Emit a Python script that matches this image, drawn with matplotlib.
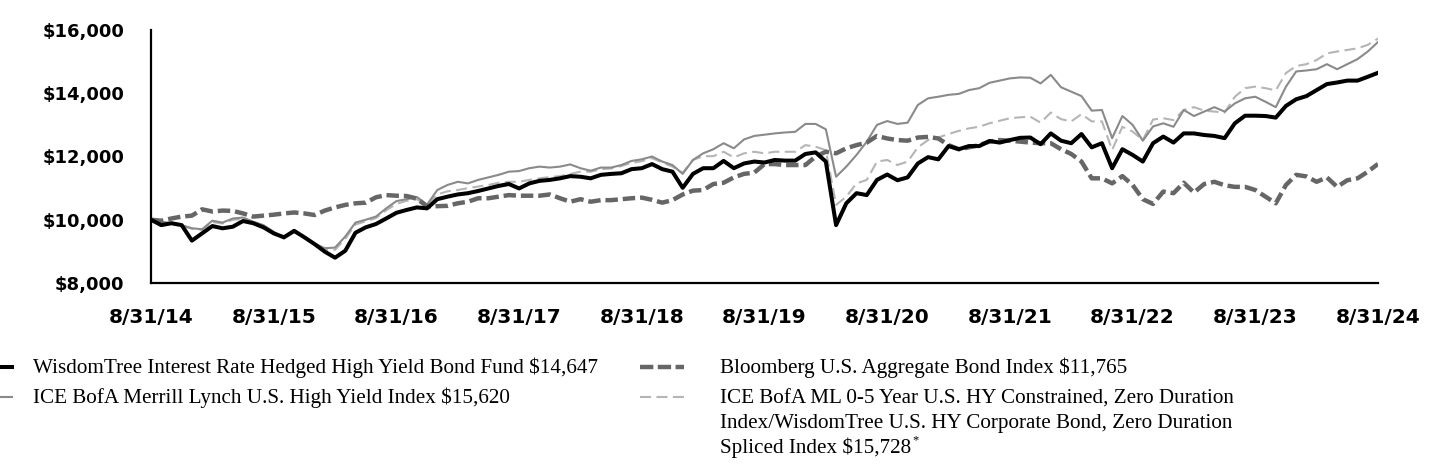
import numpy as np
import matplotlib.pyplot as plt
from matplotlib.lines import Line2D

# month index 0 = 8/31/14 ... 120 = 8/31/24
months = np.arange(121)
tick_months = [0, 12, 24, 36, 48, 60, 72, 84, 96, 108, 120]
tick_labels = ['8/31/14', '8/31/15', '8/31/16', '8/31/17', '8/31/18', '8/31/19',
               '8/31/20', '8/31/21', '8/31/22', '8/31/23', '8/31/24']
y_ticks = [8000, 10000, 12000, 14000, 16000]
y_labels = ['$8,000', '$10,000', '$12,000', '$14,000', '$16,000']

fund = [10000, 9830, 9890, 9830, 9340, 9570, 9800, 9730, 9780, 9960, 9890, 9760,
        9570, 9445, 9650, 9445, 9230, 8990, 8800, 9020, 9590, 9760, 9865, 10040,
        10220, 10310, 10390, 10360, 10650, 10730, 10800, 10840, 10910, 10990, 11070, 11130,
        10990, 11150, 11230, 11260, 11310, 11380, 11360, 11310, 11420, 11450, 11470, 11600,
        11630, 11760, 11600, 11520, 11010, 11450, 11630, 11630, 11860, 11630, 11780, 11840,
        11810, 11890, 11870, 11870, 12080, 12130, 11840, 9830, 10520, 10840, 10780, 11260,
        11430, 11250, 11340, 11780, 11980, 11910, 12330, 12230, 12330, 12330, 12490, 12440,
        12520, 12590, 12600, 12390, 12730, 12500, 12420, 12710, 12290, 12420, 11630, 12230,
        12050, 11840, 12420, 12630, 12440, 12730, 12730, 12680, 12650, 12580, 13050, 13290,
        13290, 13280, 13230, 13600, 13810, 13910, 14100, 14290, 14340, 14400, 14400, 14520,
        14647]

hy = [10000, 9940, 9890, 9830, 9730, 9700, 9970, 9910, 10040, 10070, 9940, 9830,
      9620, 9410, 9620, 9445, 9250, 9100, 9120, 9470, 9910, 10000, 10100, 10360,
      10590, 10650, 10720, 10480, 10940, 11100, 11200, 11150, 11260, 11340, 11420, 11520,
      11540, 11630, 11680, 11650, 11680, 11750, 11630, 11550, 11650, 11650, 11730, 11860,
      11910, 12000, 11840, 11730, 11450, 11890, 12100, 12230, 12420, 12260, 12540, 12650,
      12690, 12730, 12760, 12780, 13030, 13030, 12860, 11360, 11680, 12050, 12470, 13000,
      13120, 13030, 13070, 13630, 13840, 13890, 13950, 13980, 14100, 14160, 14330, 14400,
      14470, 14500, 14490, 14310, 14580, 14190, 14050, 13910, 13450, 13470, 12580, 13280,
      13000, 12500, 12950, 13050, 12940, 13470, 13280, 13420, 13560, 13420, 13680, 13840,
      13890, 13730, 13560, 14210, 14690, 14720, 14760, 14920, 14760, 14920, 15080, 15320,
      15620]

agg = [10000, 9970, 10040, 10100, 10130, 10330, 10260, 10290, 10280, 10200, 10100, 10130,
       10160, 10200, 10230, 10200, 10150, 10290, 10390, 10470, 10520, 10540, 10710, 10780,
       10760, 10750, 10670, 10420, 10430, 10440, 10520, 10570, 10680, 10680, 10730, 10780,
       10760, 10760, 10760, 10800, 10680, 10570, 10650, 10570, 10620, 10620, 10650, 10680,
       10700, 10630, 10540, 10620, 10800, 10920, 10940, 11130, 11170, 11340, 11450, 11490,
       11760, 11760, 11730, 11730, 11730, 12000, 12150, 12100, 12260, 12360, 12440, 12650,
       12570, 12520, 12500, 12600, 12620, 12570, 12360, 12230, 12290, 12360, 12470, 12520,
       12500, 12470, 12440, 12420, 12420, 12230, 12080, 11840, 11310, 11310, 11150, 11380,
       11100, 10650, 10500, 10890, 10840, 11170, 10860, 11130, 11200, 11090, 11040, 11040,
       10940, 10730, 10520, 11100, 11420, 11370, 11200, 11340, 11040, 11250, 11310, 11520,
       11765]

spliced = [10000, 9920, 9870, 9800, 9720, 9680, 9930, 9880, 10000, 10020, 9920, 9800,
           9600, 9420, 9600, 9440, 9230, 9050, 9050, 9400, 9850, 9950, 10050, 10300,
           10500, 10600, 10650, 10450, 10800, 10900, 10940, 11000, 11050, 11100, 11170, 11200,
           11200, 11260, 11310, 11350, 11380, 11450, 11520, 11520, 11600, 11620, 11700, 11800,
           11850, 11950, 11810, 11680, 11490, 11890, 12010, 12010, 12150, 11970, 12100, 12150,
           12100, 12150, 12150, 12150, 12360, 12310, 12200, 10470, 10730, 11150, 11260, 11840,
           11890, 11730, 11840, 12290, 12520, 12600, 12710, 12810, 12890, 12940, 13050, 13130,
           13210, 13240, 13260, 13070, 13390, 13180, 13110, 13340, 13110, 13110, 12210, 12940,
           12790, 12520, 13170, 13210, 13150, 13470, 13560, 13450, 13420, 13390, 13890, 14160,
           14210, 14160, 14090, 14640, 14860, 14920, 15050, 15260, 15320, 15370, 15420, 15530,
           15728]

names = [['WisdomTree Interest Rate Hedged High Yield Bond Fund $14,647'],
         ['ICE BofA Merrill Lynch U.S. High Yield Index $15,620'],
         ['Bloomberg U.S. Aggregate Bond Index $11,765'],
         ['ICE BofA ML 0-5 Year U.S. HY Constrained, Zero Duration',
          'Index/WisdomTree U.S. HY Corporate Bond, Zero Duration',
          'Spliced Index $15,728']]

styles = {
    'fund': dict(color='black', lw=2.9),
    'hy': dict(color='#8a8a8a', lw=1.5),
    'agg': dict(color='#666666', lw=3.2, dashes=(2.8, 1.1)),
    'spliced': dict(color='#b5b5b5', lw=1.5, dashes=(5.3, 2.6)),
}

fig = plt.figure(figsize=(14.4, 4.68), dpi=100)
ax = fig.add_axes([151 / 1440, 1 - 283 / 468, (1378 - 151) / 1440, (283 - 30) / 468])

ax.plot(months, spliced, **styles['spliced'])
ax.plot(months, hy, **styles['hy'])
ax.plot(months, agg, **styles['agg'])
ax.plot(months, fund, **styles['fund'])

ax.set_xlim(0, 120)
ax.set_ylim(8000, 16000)
ax.set_xticks(tick_months)
ax.set_xticklabels(tick_labels, fontsize=14.5, fontweight='bold', family='DejaVu Sans')
ax.set_yticks(y_ticks)
ax.set_yticklabels(y_labels, fontsize=13, fontweight='bold', family='DejaVu Sans')
ax.tick_params(axis='x', length=0, pad=18)
ax.tick_params(axis='y', length=0, pad=19)
for s in ['top', 'right']:
    ax.spines[s].set_visible(False)
for s in ['left', 'bottom']:
    ax.spines[s].set_linewidth(1.6)
    ax.spines[s].set_color('black')

# legend, drawn by hand in figure pixels
def px(x, y):
    return x / 1440, 1 - y / 468

legend_items = [
    (names[0], 'fund', -30, 12, 33, 367),
    (names[1], 'hy', -30, 12, 33, 397),
    (names[2], 'agg', 640, 684, 720, 367),
    (names[3], 'spliced', 640, 684, 720, 397),
]
renderer = fig.canvas.get_renderer()
for lines, key, x0, x1, tx, ty in legend_items:
    st = dict(styles[key])
    if key == 'agg':
        st['dashes'] = (3.0, 1.0)
    (hx0, hy0) = px(x0, ty)
    (hx1, _) = px(x1, ty)
    fig.add_artist(Line2D([hx0, hx1], [hy0, hy0], transform=fig.transFigure, **st))
    for i, line in enumerate(lines):
        tx_f, ty_f = px(tx, ty + 6.5 + i * 24.5)
        t = fig.text(tx_f, ty_f, line, fontsize=15.2, family='Liberation Serif',
                     va='baseline', ha='left')
    if key == 'spliced':
        bb = t.get_window_extent(renderer)
        fig.text((bb.x1 + 1) / 1440, ty_f + 9 / 468, '*', fontsize=9,
                 family='Liberation Serif', va='baseline', ha='left')

fig.savefig('out.png', dpi=100)
